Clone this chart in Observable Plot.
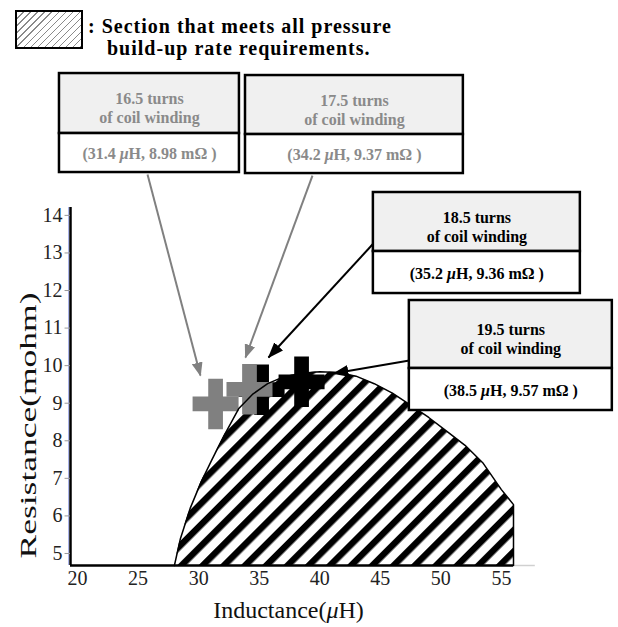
<!DOCTYPE html>
<html><head><meta charset="utf-8">
<script src="https://cdn.jsdelivr.net/npm/d3@7"></script>
<script src="https://cdn.jsdelivr.net/npm/@observablehq/plot@0.6"></script>
<style>
html,body{margin:0;padding:0;background:#fff;}
#wrap{position:relative;width:618px;height:627px;overflow:hidden;background:#fff;}
#chart svg{display:block;}
#legend-box{position:absolute;left:15px;top:10px;width:64px;height:35px;border:2px solid #000;
  background:repeating-linear-gradient(135deg, #fff 0 4px, #8a8a8a 4px 5px);}
.legend-text{position:absolute;font:bold 20px "Liberation Serif","Times New Roman",serif;letter-spacing:1px;line-height:20px;white-space:nowrap;color:#000;}
</style></head>
<body>
<div id="wrap">
  <div id="chart"></div>
  <div id="legend-box"></div>
  <div class="legend-text" id="lg1" style="left:88px;top:16px"></div>
  <div class="legend-text" id="lg2" style="left:107px;top:38px"></div>
</div>
<script>
// ---------- data ----------
const turns = [16.5, 17.5, 18.5, 19.5];
const inductance = [31.4, 34.2, 35.2, 38.5];        // µH
const resistance = [8.98, 9.37, 9.36, 9.57];        // mΩ
const emphasised = [false, false, true, true];

// boundary of the section meeting all requirements
const regionL = [28.0, 28.5, 29.3, 30.2, 31.1, 32.2, 33.3, 34.5, 35.7, 37.0, 38.5, 40.0, 41.5, 43.0, 44.5, 46.0, 47.5, 49.0, 50.5, 52.0, 53.5, 55.0, 56.0];
const regionR = [4.68, 5.4, 6.2, 6.9, 7.5, 8.2, 8.85, 9.25, 9.52, 9.7, 9.8, 9.84, 9.82, 9.72, 9.52, 9.27, 8.95, 8.62, 8.25, 7.88, 7.4, 6.7, 6.3];

const xTicks = [20, 25, 30, 35, 40, 45, 50, 55];
const yTicks = [5, 6, 7, 8, 9, 10, 11, 12, 13, 14];
const xLabel = "Inductance(μH)";
const yLabel = "Resistance(mohm)";
const legendLines = [": Section that meets all pressure", "build-up rate requirements."];

// ---------- layout (in data units) ----------
const X0 = 19.42, X1 = 57.8, Y0 = 4.68, Y1 = 14.21;
const boxX1 = [18.51, 33.87, 44.43, 47.40];
const boxX2 = [33.37, 51.86, 61.52, 64.16];
const boxTop = [17.776, 17.723, 14.609, 11.734];
const boxDiv = [16.179, 16.152, 13.038, 9.924];
const boxBot = [15.141, 15.114, 11.920, 8.806];
const arrowFrom = [[25.78, 15.088], [39.40, 15.061], [44.43, 13.251], [47.40, 10.137]];
const arrowTo = [[30.15, 9.738], [33.87, 10.217], [35.77, 10.217], [41.13, 9.791]];

document.getElementById("lg1").textContent = legendLines[0];
document.getElementById("lg2").textContent = legendLines[1];

const rows = turns.map((t, i) => ({
  turns: t, L: inductance[i], R: resistance[i], emph: emphasised[i],
  bx1: boxX1[i], bx2: boxX2[i], yTop: boxTop[i], yDiv: boxDiv[i], yBot: boxBot[i],
  fx: arrowFrom[i][0], fy: arrowFrom[i][1], tx: arrowTo[i][0], ty: arrowTo[i][1]
}));
const grayRows = rows.filter(d => !d.emph);
const blackRows = rows.filter(d => d.emph);
const region = regionL.map((l, i) => ({L: l, R: regionR[i]}));
const outline = region.concat([{L: regionL[regionL.length - 1], R: Y0}]);

const plusSymbol = {
  draw(ctx, size) {
    const r = Math.sqrt(size / Math.PI);
    const a = r, b = r * 1.1, t = r * 0.32;
    ctx.moveTo(-t, -b); ctx.lineTo(t, -b); ctx.lineTo(t, -t); ctx.lineTo(a, -t);
    ctx.lineTo(a, t); ctx.lineTo(t, t); ctx.lineTo(t, b); ctx.lineTo(-t, b);
    ctx.lineTo(-t, t); ctx.lineTo(-a, t); ctx.lineTo(-a, -t); ctx.lineTo(-t, -t);
    ctx.closePath();
  }
};

const GRAY_TXT = "#8a8a8a", GRAY_MK = "#808080";
const serif = "'Liberation Serif','Times New Roman',serif";

function boxMarks(data, color) {
  return [
    Plot.rect(data, {x1: "bx1", x2: "bx2", y1: "yDiv", y2: "yTop", fill: "#f0f0f0", stroke: "#000", strokeWidth: 2.5}),
    Plot.rect(data, {x1: "bx1", x2: "bx2", y1: "yBot", y2: "yDiv", fill: "#fff", stroke: "#000", strokeWidth: 2.5}),
    Plot.text(data, {x: d => (d.bx1 + d.bx2) / 2, y: d => (d.yTop + d.yDiv) / 2, dy: 4,
      text: d => `${d.turns} turns\nof coil winding`, lineHeight: 1.19, fontSize: 16, fontWeight: "bold", fontFamily: serif, fill: color}),
    Plot.text(data, {x: d => (d.bx1 + d.bx2) / 2, y: d => (d.yDiv + d.yBot) / 2, dy: 1,
      text: d => `(${d.L} μH, ${d.R} mΩ )`, fontSize: 16, fontWeight: "bold", fontFamily: serif, fill: color})
  ];
}

const chart = Plot.plot({
  width: 618, height: 627,
  marginLeft: 70, marginRight: 83.2, marginTop: 207, marginBottom: 62,
  x: {domain: [X0, X1], axis: null},
  y: {domain: [Y0, Y1], axis: null},
  style: {fontFamily: serif, background: "#fff", overflow: "visible"},
  marks: [
    Plot.areaY(region, {x: "L", y1: Y0, y2: "R", fill: "url(#hatch)", curve: "linear"}),
    // axes
    Plot.ruleY([Y0], {x1: 56, x2: X1, stroke: "#d0d0d0", strokeWidth: 1.5}),
    Plot.ruleY([Y0], {x1: X0, x2: 56, stroke: "#000", strokeWidth: 2.5}),
    Plot.ruleX([X0], {y1: Y0, y2: Y1, stroke: "#7b8be0", strokeWidth: 0.8, strokeOpacity: 0.8, dx: -2}),
    Plot.ruleX([X0], {y1: Y0, y2: Y1, stroke: "#000", strokeWidth: 2.5}),
    Plot.ruleY(yTicks, {x1: X0 - 0.45, x2: X0, stroke: "#999", strokeWidth: 1}),
    Plot.text(xTicks, {x: d => d, y: Y0, dy: 13, text: d => String(d), fontSize: 20, fontFamily: serif, fill: "#222"}),
    Plot.text(yTicks, {x: X0, y: d => d, dx: -8, textAnchor: "end", text: d => String(d), fontSize: 20, fontFamily: serif, fill: "#222"}),
    Plot.text([xLabel], {x: 37.42, y: Y0, dy: 45, text: d => d, fontSize: 24, fontFamily: serif, fill: "#111"}),
    Plot.text([yLabel], {x: X0, y: 8.407, dx: -42, rotate: -90, text: d => d, fontSize: 23, fontFamily: serif, fill: "#111"}),
    // markers
    Plot.dot(blackRows, {x: "L", y: "R", r: 23, symbol: plusSymbol, fill: "#000", stroke: "none"}),
    Plot.dot(grayRows, {x: "L", y: "R", r: 23, symbol: plusSymbol, fill: GRAY_MK, stroke: "none"}),
    Plot.line(outline, {x: "L", y: "R", stroke: "#000", strokeWidth: 1.5, curve: "linear"}),
    // annotation boxes
    ...boxMarks(grayRows, GRAY_TXT),
    ...boxMarks(blackRows, "#000"),
    // arrows
    Plot.link(grayRows, {x1: "fx", y1: "fy", x2: "tx", y2: "ty", stroke: GRAY_MK, strokeWidth: 2}),
    Plot.link(blackRows, {x1: "fx", y1: "fy", x2: "tx", y2: "ty", stroke: "#000", strokeWidth: 2})
  ]
});

document.getElementById("chart").appendChild(chart);

// ---------- post-processing: pattern, arrowheads, italic μ, stretched y label ----------
const svg = d3.select(chart);
const defs = svg.insert("defs", ":first-child");
const pat = defs.append("pattern").attr("id", "hatch").attr("patternUnits", "userSpaceOnUse")
  .attr("width", 15).attr("height", 15).attr("patternTransform", "rotate(45)");
pat.append("rect").attr("width", 15).attr("height", 15).attr("fill", "#fff");
pat.append("rect").attr("width", 6.5).attr("height", 15).attr("fill", "#000");

function head(id, color, len, wid) {
  defs.append("marker").attr("id", id).attr("viewBox", `0 0 ${len} ${wid}`)
    .attr("refX", len - 1).attr("refY", wid / 2).attr("markerWidth", len).attr("markerHeight", wid)
    .attr("markerUnits", "userSpaceOnUse").attr("orient", "auto")
    .append("path").attr("d", `M0,0L${len},${wid / 2}L0,${wid}Z`).attr("fill", color);
}
head("head-gray", GRAY_MK, 14, 11);
head("head-black", "#000", 16, 12);
svg.selectAll('g[aria-label="link"]').each(function (_, i) {
  d3.select(this).selectAll("path").attr("marker-end", i === 0 ? "url(#head-gray)" : "url(#head-black)");
});

const NS = "http://www.w3.org/2000/svg";
svg.selectAll("text, tspan").each(function () {
  if (this.children && this.children.length) return;
  const s = this.textContent;
  if (!s.includes("μ")) return;
  this.textContent = "";
  s.split("μ").forEach((part, i) => {
    if (i) {
      const t = document.createElementNS(NS, "tspan");
      t.setAttribute("font-style", "italic");
      t.textContent = "μ";
      this.appendChild(t);
    }
    this.appendChild(document.createTextNode(part));
  });
});
svg.selectAll("text").filter(function () { return this.textContent === yLabel; })
  .attr("textLength", 266).attr("lengthAdjust", "spacingAndGlyphs");
</script>
</body></html>
